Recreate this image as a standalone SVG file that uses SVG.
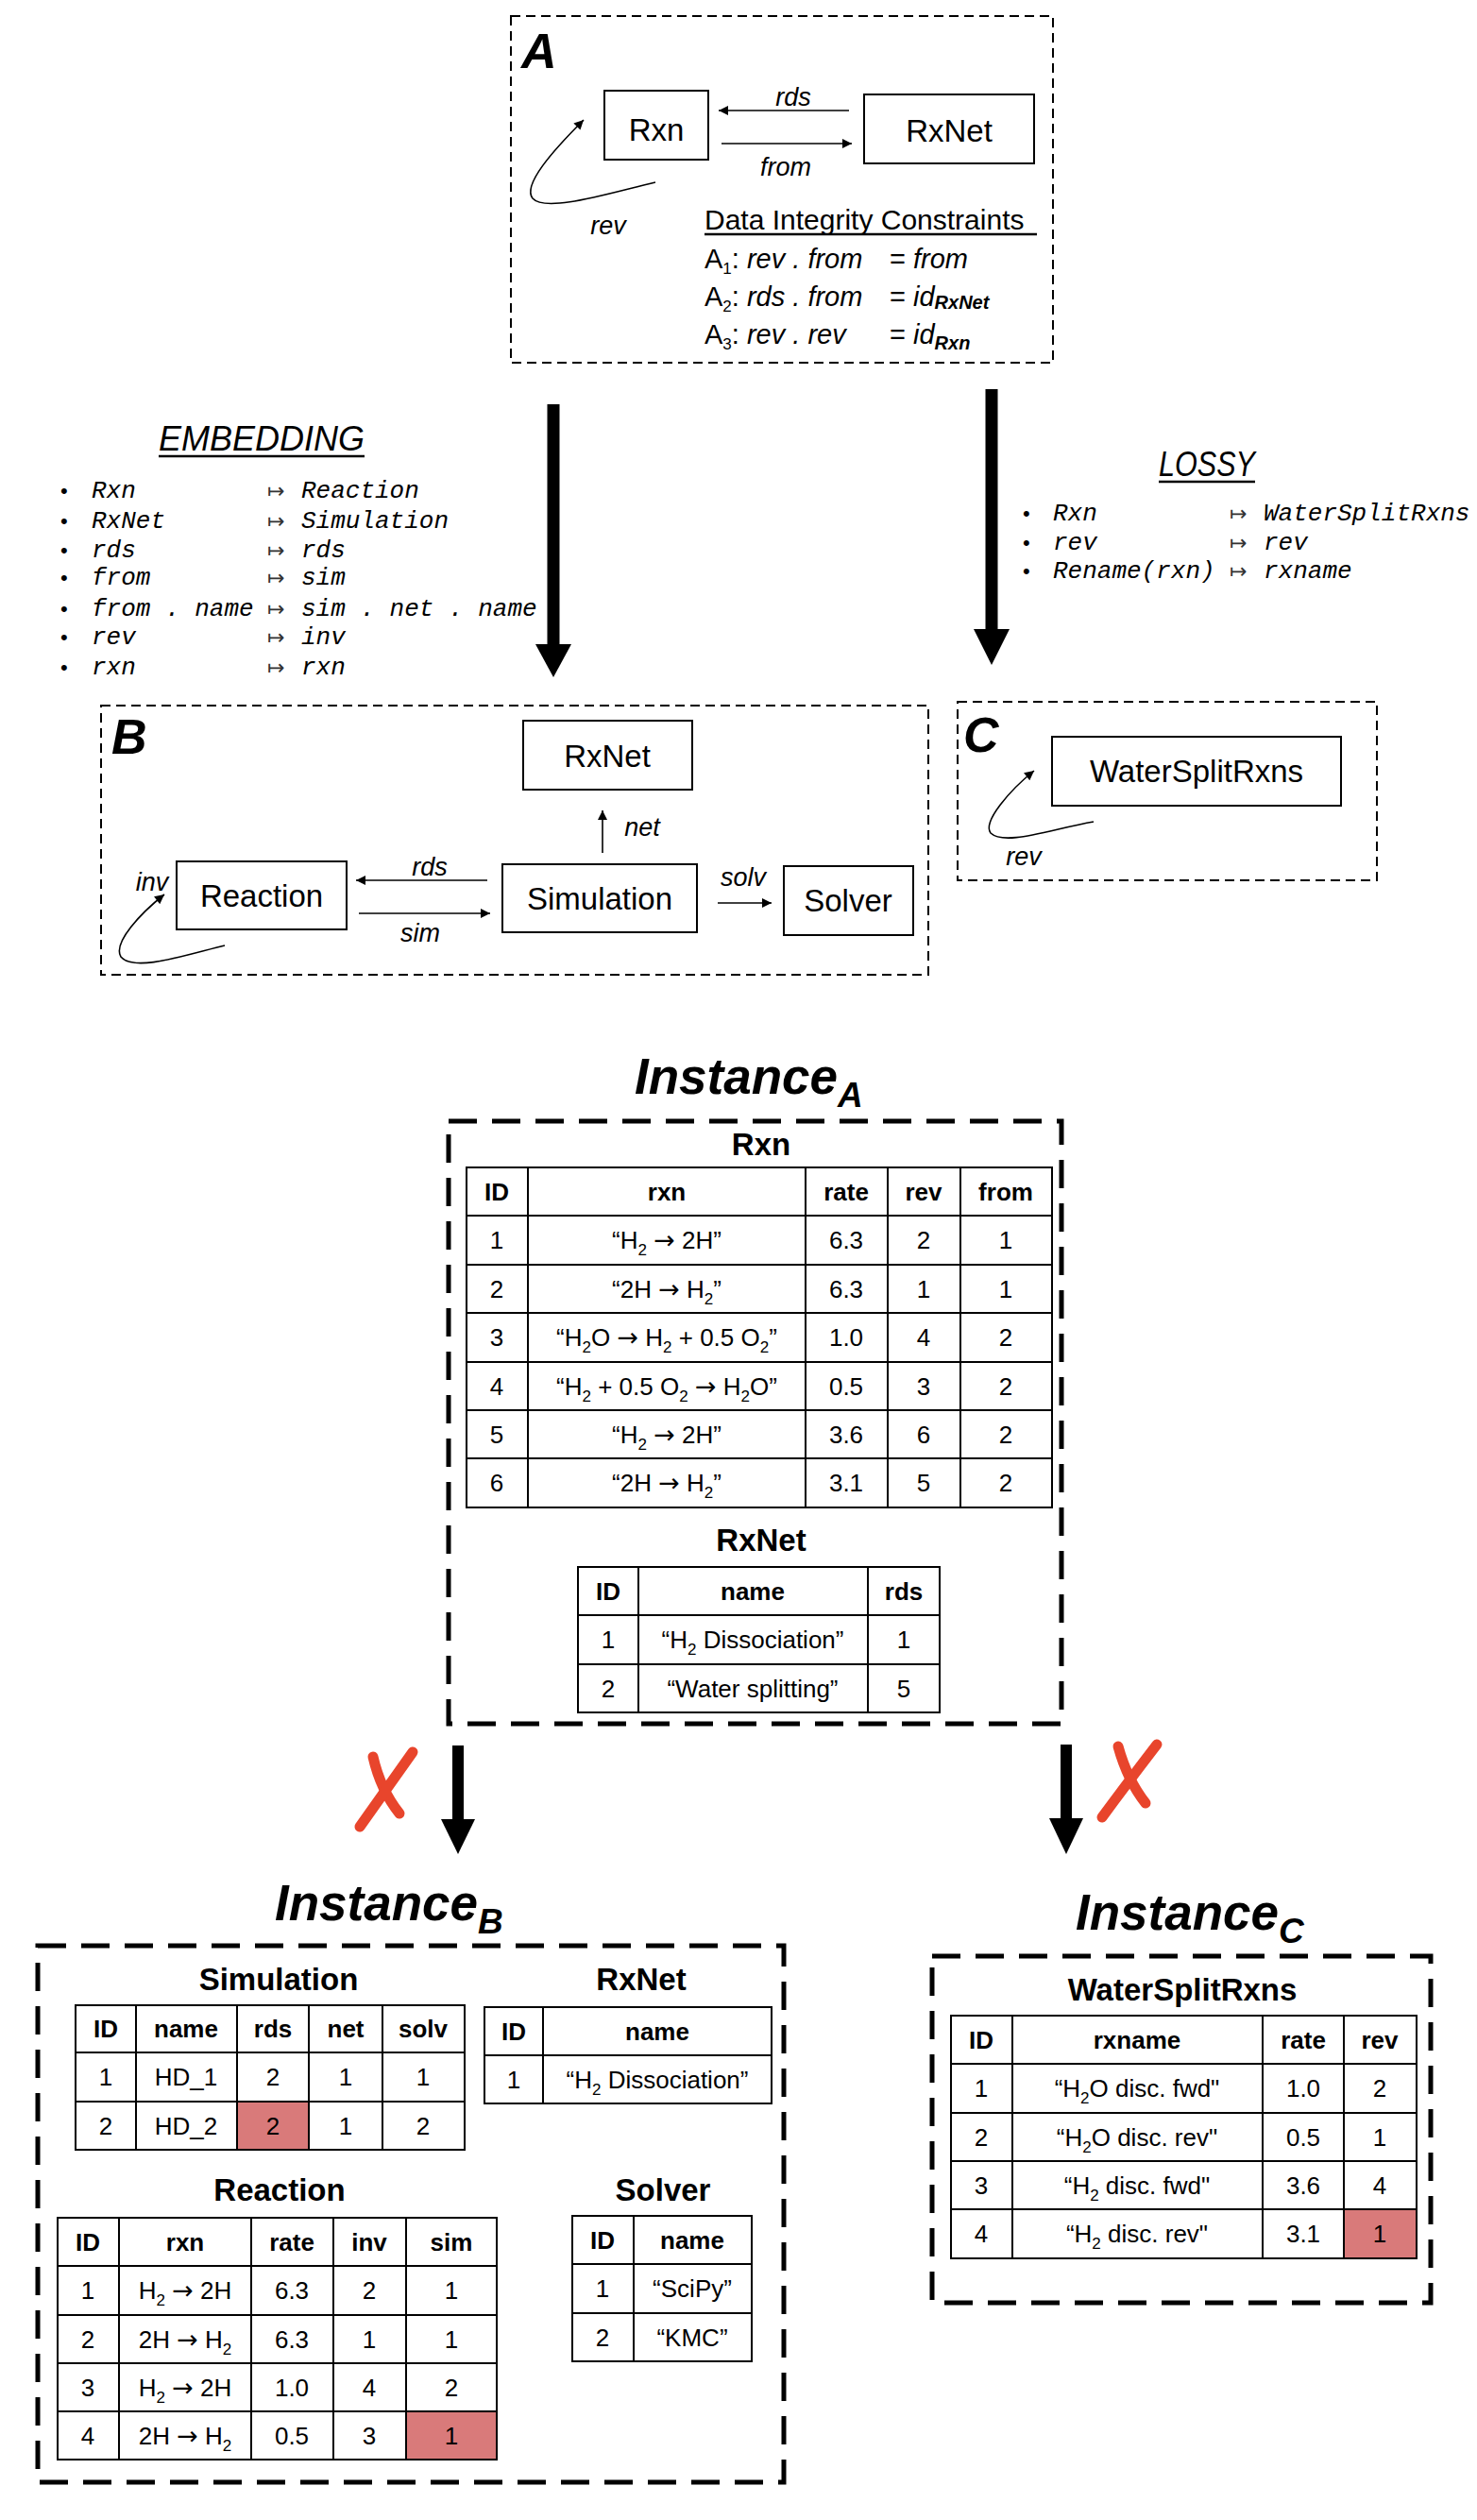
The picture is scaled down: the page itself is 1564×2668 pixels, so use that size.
<svg xmlns="http://www.w3.org/2000/svg" width="1564" height="2668" viewBox="0 0 1564 2668">
<style>
text{font-family:"Liberation Sans",Arial,sans-serif;fill:#000}
.node rect{fill:#fff;stroke:#000;stroke-width:2}
.node text{font-size:33px;text-anchor:middle}
.lbl{font-style:italic;font-size:27px}
.mono{font-family:"Liberation Mono","DejaVu Sans Mono",monospace;font-style:italic;font-size:26px}
.map{font-family:"DejaVu Sans",sans-serif;font-size:22px;fill:#333}
.bul{font-size:22px}
.tbl{fill:none;stroke:#000;stroke-width:2}
.cell{font-size:26px;text-anchor:middle}
.hdr{font-size:26px;font-weight:bold;text-anchor:middle}
.ttl{font-size:33px;font-weight:bold;text-anchor:middle}
.inst{font-size:53px;font-weight:bold;font-style:italic}
.isub{font-size:37px}
.sb{font-size:17px}
.ar{font-family:"DejaVu Sans",sans-serif;font-size:27px}
.frame{fill:none;stroke:#000;stroke-width:2;stroke-dasharray:10 6}
.iframe{fill:none;stroke:#000;stroke-width:5;stroke-dasharray:30 16}
.big{font-size:52px;font-weight:bold;font-style:italic}
.hl{fill:#D97A7A}
.xmark{fill:none;stroke:#E8452C;stroke-width:11;stroke-linecap:round}
.con{fill:none;stroke:#000;stroke-width:1.6}
.head{font-size:36px;font-style:italic}
.cons{font-size:29px}
</style>
<defs>
<marker id="ah" viewBox="0 0 10 10" refX="10" refY="5" markerWidth="13" markerHeight="10" markerUnits="userSpaceOnUse" orient="auto"><path d="M0,0 L10,5 L0,10 z" fill="#000"/></marker>
</defs>

<!-- Frame A -->
<g id="frameA">
<rect class="frame" x="541" y="17" width="574" height="367"/>
<text class="big" x="552" y="72">A</text>
</g>
<g id="nodeA-Rxn" class="node"><rect x="640" y="96" width="110" height="73"/><text x="695" y="149">Rxn</text></g>
<g id="nodeA-RxNet" class="node"><rect x="915" y="100" width="180" height="73"/><text x="1005" y="150">RxNet</text></g>
<g id="constraints">
<text x="746" y="243" style="font-size:30px">Data Integrity Constraints</text>
<line x1="746" y1="248" x2="1098" y2="248" stroke="#000" stroke-width="2.5"/>
<text class="cons" x="746" y="284">A<tspan class="sb" dy="6">1</tspan><tspan dy="-6">: </tspan><tspan font-style="italic">rev . from</tspan></text>
<text class="cons" x="942" y="284">= <tspan font-style="italic">from</tspan></text>
<text class="cons" x="746" y="324">A<tspan class="sb" dy="6">2</tspan><tspan dy="-6">: </tspan><tspan font-style="italic">rds . from</tspan></text>
<text class="cons" x="942" y="324">= <tspan font-style="italic">id</tspan><tspan font-style="italic" font-weight="bold" font-size="20" dy="3">RxNet</tspan></text>
<text class="cons" x="746" y="364">A<tspan class="sb" dy="6">3</tspan><tspan dy="-6">: </tspan><tspan font-style="italic">rev . rev</tspan></text>
<text class="cons" x="942" y="364">= <tspan font-style="italic">id</tspan><tspan font-style="italic" font-weight="bold" font-size="20" dy="6">Rxn</tspan></text>
</g>

<!-- Embedding -->
<g id="embedding">
<text class="head" x="168" y="477" textLength="218" lengthAdjust="spacingAndGlyphs">EMBEDDING</text>
<line x1="168" y1="483" x2="386" y2="483" stroke="#000" stroke-width="2.5"/>
<text class="bul" x="64" y="527">•</text><text class="mono" x="97" y="527">Rxn</text><text class="map" x="283" y="527">↦</text><text class="mono" x="319" y="527">Reaction</text>
<text class="bul" x="64" y="559">•</text><text class="mono" x="97" y="559">RxNet</text><text class="map" x="283" y="559">↦</text><text class="mono" x="319" y="559">Simulation</text>
<text class="bul" x="64" y="590">•</text><text class="mono" x="97" y="590">rds</text><text class="map" x="283" y="590">↦</text><text class="mono" x="319" y="590">rds</text>
<text class="bul" x="64" y="619">•</text><text class="mono" x="97" y="619">from</text><text class="map" x="283" y="619">↦</text><text class="mono" x="319" y="619">sim</text>
<text class="bul" x="64" y="652">•</text><text class="mono" x="97" y="652">from . name</text><text class="map" x="283" y="652">↦</text><text class="mono" x="319" y="652">sim . net . name</text>
<text class="bul" x="64" y="682">•</text><text class="mono" x="97" y="682">rev</text><text class="map" x="283" y="682">↦</text><text class="mono" x="319" y="682">inv</text>
<text class="bul" x="64" y="714">•</text><text class="mono" x="97" y="714">rxn</text><text class="map" x="283" y="714">↦</text><text class="mono" x="319" y="714">rxn</text>
</g>

<!-- Lossy -->
<g id="lossy">
<text class="head" x="1227" y="504" textLength="102" lengthAdjust="spacingAndGlyphs">LOSSY</text>
<line x1="1227" y1="510" x2="1329" y2="510" stroke="#000" stroke-width="2.5"/>
<text class="bul" x="1083" y="551">•</text><text class="mono" x="1115" y="551">Rxn</text><text class="map" x="1302" y="551">↦</text><text class="mono" x="1338" y="551">WaterSplitRxns</text>
<text class="bul" x="1083" y="582">•</text><text class="mono" x="1115" y="582">rev</text><text class="map" x="1302" y="582">↦</text><text class="mono" x="1338" y="582">rev</text>
<text class="bul" x="1083" y="612">•</text><text class="mono" x="1115" y="612">Rename(rxn)</text><text class="map" x="1302" y="612">↦</text><text class="mono" x="1338" y="612">rxname</text>
</g>

<!-- Frame B -->
<g id="frameB">
<rect class="frame" x="107" y="747" width="876" height="285"/>
<text class="big" x="118" y="798">B</text>
</g>
<g id="nodeB-RxNet" class="node"><rect x="554" y="763" width="179" height="73"/><text x="643" y="812">RxNet</text></g>
<g id="nodeB-Reaction" class="node"><rect x="187" y="912" width="180" height="72"/><text x="277" y="960">Reaction</text></g>
<g id="nodeB-Simulation" class="node"><rect x="532" y="915" width="206" height="72"/><text x="635" y="963">Simulation</text></g>
<g id="nodeB-Solver" class="node"><rect x="830" y="917" width="137" height="73"/><text x="898" y="965">Solver</text></g>

<!-- Frame C -->
<g id="frameC">
<rect class="frame" x="1014" y="743" width="444" height="189"/>
<text class="big" x="1020" y="796">C</text>
</g>
<g id="nodeC-WaterSplitRxns" class="node"><rect x="1114" y="780" width="306" height="73"/><text x="1267" y="828">WaterSplitRxns</text></g>

<!-- Connectors -->
<g id="connectors">
<line class="con" x1="899" y1="117" x2="761" y2="117" marker-end="url(#ah)"/>
<line class="con" x1="764" y1="152" x2="902" y2="152" marker-end="url(#ah)"/>
<path class="con" d="M694,193 C650,203 578,226 564,210 C553,196 585,160 618,127" marker-end="url(#ah)"/>
<text class="lbl" x="840" y="112" text-anchor="middle">rds</text>
<text class="lbl" x="832" y="186" text-anchor="middle">from</text>
<text class="lbl" x="644" y="248" text-anchor="middle">rev</text>

<line class="con" x1="516" y1="932" x2="377" y2="932" marker-end="url(#ah)"/>
<line class="con" x1="380" y1="967" x2="519" y2="967" marker-end="url(#ah)"/>
<line class="con" x1="638" y1="903" x2="638" y2="858" marker-end="url(#ah)"/>
<line class="con" x1="760" y1="956" x2="817" y2="956" marker-end="url(#ah)"/>
<path class="con" d="M238,1001 C200,1010 142,1030 128,1013 C119,998 150,966 174,947" marker-end="url(#ah)"/>
<text class="lbl" x="455" y="927" text-anchor="middle">rds</text>
<text class="lbl" x="445" y="997" text-anchor="middle">sim</text>
<text class="lbl" x="680" y="885" text-anchor="middle">net</text>
<text class="lbl" x="787" y="938" text-anchor="middle">solv</text>
<text class="lbl" x="161" y="943" text-anchor="middle">inv</text>

<path class="con" d="M1158,870 C1112,878 1064,896 1049,882 C1040,870 1070,836 1095,816" marker-end="url(#ah)"/>
<text class="lbl" x="1084" y="916" text-anchor="middle">rev</text>

<!-- thick arrows -->
<rect x="579.5" y="428" width="13" height="256"/>
<polygon points="567,682 605,682 586,717"/>
<rect x="1043.5" y="412" width="13" height="256"/>
<polygon points="1031,666 1069,666 1050,704"/>
<rect x="479" y="1848" width="12" height="80"/>
<polygon points="467,1926 503,1926 485,1963"/>
<rect x="1123" y="1847" width="12" height="80"/>
<polygon points="1111,1925 1147,1925 1129,1963"/>

<!-- red X marks -->
<path class="xmark" d="M395,1860 Q403,1895 423,1920"/>
<path class="xmark" d="M437,1855 Q405,1900 381,1934"/>
<path class="xmark" d="M1184,1849 Q1194,1885 1213,1909"/>
<path class="xmark" d="M1225,1847 Q1192,1890 1167,1924"/>
</g>

<!-- Instance A -->
<g id="instanceA">
<text class="inst" x="672" y="1158">Instance<tspan class="isub" dy="14">A</tspan></text>
<rect class="iframe" x="475" y="1187" width="649" height="638"/>
<text class="ttl" x="806" y="1223">Rxn</text>
<rect class="tbl" x="494" y="1236" width="620" height="360"/>
<path class="tbl" d="M559,1236V1596 M853,1236V1596 M940,1236V1596 M1017,1236V1596 M494,1287H1114 M494,1339H1114 M494,1390H1114 M494,1442H1114 M494,1493H1114 M494,1544H1114"/>
<text class="hdr" x="526" y="1271">ID</text><text class="hdr" x="706" y="1271">rxn</text><text class="hdr" x="896" y="1271">rate</text><text class="hdr" x="978" y="1271">rev</text><text class="hdr" x="1065" y="1271">from</text>
<text class="cell" x="526" y="1322">1</text><text class="cell" x="706" y="1322">“H<tspan class="sb" dy="7">2</tspan><tspan dy="-7"> </tspan><tspan class="ar">→</tspan> 2H”</text><text class="cell" x="896" y="1322">6.3</text><text class="cell" x="978" y="1322">2</text><text class="cell" x="1065" y="1322">1</text>
<text class="cell" x="526" y="1374">2</text><text class="cell" x="706" y="1374">“2H <tspan class="ar">→</tspan> H<tspan class="sb" dy="7">2</tspan><tspan dy="-7">”</tspan></text><text class="cell" x="896" y="1374">6.3</text><text class="cell" x="978" y="1374">1</text><text class="cell" x="1065" y="1374">1</text>
<text class="cell" x="526" y="1425">3</text><text class="cell" x="706" y="1425">“H<tspan class="sb" dy="7">2</tspan><tspan dy="-7">O </tspan><tspan class="ar">→</tspan> H<tspan class="sb" dy="7">2</tspan><tspan dy="-7"> + 0.5 O</tspan><tspan class="sb" dy="7">2</tspan><tspan dy="-7">”</tspan></text><text class="cell" x="896" y="1425">1.0</text><text class="cell" x="978" y="1425">4</text><text class="cell" x="1065" y="1425">2</text>
<text class="cell" x="526" y="1477">4</text><text class="cell" x="706" y="1477">“H<tspan class="sb" dy="7">2</tspan><tspan dy="-7"> + 0.5 O</tspan><tspan class="sb" dy="7">2</tspan><tspan dy="-7"> </tspan><tspan class="ar">→</tspan> H<tspan class="sb" dy="7">2</tspan><tspan dy="-7">O”</tspan></text><text class="cell" x="896" y="1477">0.5</text><text class="cell" x="978" y="1477">3</text><text class="cell" x="1065" y="1477">2</text>
<text class="cell" x="526" y="1528">5</text><text class="cell" x="706" y="1528">“H<tspan class="sb" dy="7">2</tspan><tspan dy="-7"> </tspan><tspan class="ar">→</tspan> 2H”</text><text class="cell" x="896" y="1528">3.6</text><text class="cell" x="978" y="1528">6</text><text class="cell" x="1065" y="1528">2</text>
<text class="cell" x="526" y="1579">6</text><text class="cell" x="706" y="1579">“2H <tspan class="ar">→</tspan> H<tspan class="sb" dy="7">2</tspan><tspan dy="-7">”</tspan></text><text class="cell" x="896" y="1579">3.1</text><text class="cell" x="978" y="1579">5</text><text class="cell" x="1065" y="1579">2</text>

<text class="ttl" x="806" y="1642">RxNet</text>
<rect class="tbl" x="612" y="1659" width="383" height="154"/>
<path class="tbl" d="M676,1659V1813 M919,1659V1813 M612,1710H995 M612,1762H995"/>
<text class="hdr" x="644" y="1694">ID</text><text class="hdr" x="797" y="1694">name</text><text class="hdr" x="957" y="1694">rds</text>
<text class="cell" x="644" y="1745">1</text><text class="cell" x="797" y="1745">“H<tspan class="sb" dy="7">2</tspan><tspan dy="-7"> Dissociation”</tspan></text><text class="cell" x="957" y="1745">1</text>
<text class="cell" x="644" y="1797">2</text><text class="cell" x="797" y="1797">“Water splitting”</text><text class="cell" x="957" y="1797">5</text>
</g>

<!-- Instance B -->
<g id="instanceB">
<text class="inst" x="291" y="2033">Instance<tspan class="isub" dy="14">B</tspan></text>
<rect class="iframe" x="40" y="2060" width="790" height="568"/>
<text class="ttl" x="295" y="2107">Simulation</text>
<rect class="hl" x="251" y="2225" width="76" height="51"/>
<rect class="tbl" x="80" y="2123" width="412" height="153"/>
<path class="tbl" d="M144,2123V2276 M251,2123V2276 M327,2123V2276 M405,2123V2276 M80,2173H492 M80,2225H492"/>
<text class="hdr" x="112" y="2157">ID</text><text class="hdr" x="197" y="2157">name</text><text class="hdr" x="289" y="2157">rds</text><text class="hdr" x="366" y="2157">net</text><text class="hdr" x="448" y="2157">solv</text>
<text class="cell" x="112" y="2208">1</text><text class="cell" x="197" y="2208">HD_1</text><text class="cell" x="289" y="2208">2</text><text class="cell" x="366" y="2208">1</text><text class="cell" x="448" y="2208">1</text>
<text class="cell" x="112" y="2260">2</text><text class="cell" x="197" y="2260">HD_2</text><text class="cell" x="289" y="2260">2</text><text class="cell" x="366" y="2260">1</text><text class="cell" x="448" y="2260">2</text>

<text class="ttl" x="679" y="2107">RxNet</text>
<rect class="tbl" x="513" y="2125" width="304" height="102"/>
<path class="tbl" d="M575,2125V2227 M513,2176H817"/>
<text class="hdr" x="544" y="2160">ID</text><text class="hdr" x="696" y="2160">name</text>
<text class="cell" x="544" y="2211">1</text><text class="cell" x="696" y="2211">“H<tspan class="sb" dy="7">2</tspan><tspan dy="-7"> Dissociation”</tspan></text>

<text class="ttl" x="296" y="2330">Reaction</text>
<rect class="hl" x="430" y="2553" width="96" height="51"/>
<rect class="tbl" x="61" y="2348" width="465" height="256"/>
<path class="tbl" d="M126,2348V2604 M266,2348V2604 M353,2348V2604 M430,2348V2604 M61,2399H526 M61,2451H526 M61,2502H526 M61,2553H526"/>
<text class="hdr" x="93" y="2383">ID</text><text class="hdr" x="196" y="2383">rxn</text><text class="hdr" x="309" y="2383">rate</text><text class="hdr" x="391" y="2383">inv</text><text class="hdr" x="478" y="2383">sim</text>
<text class="cell" x="93" y="2434">1</text><text class="cell" x="196" y="2434">H<tspan class="sb" dy="7">2</tspan><tspan dy="-7"> </tspan><tspan class="ar">→</tspan> 2H</text><text class="cell" x="309" y="2434">6.3</text><text class="cell" x="391" y="2434">2</text><text class="cell" x="478" y="2434">1</text>
<text class="cell" x="93" y="2486">2</text><text class="cell" x="196" y="2486">2H <tspan class="ar">→</tspan> H<tspan class="sb" dy="7">2</tspan></text><text class="cell" x="309" y="2486">6.3</text><text class="cell" x="391" y="2486">1</text><text class="cell" x="478" y="2486">1</text>
<text class="cell" x="93" y="2537">3</text><text class="cell" x="196" y="2537">H<tspan class="sb" dy="7">2</tspan><tspan dy="-7"> </tspan><tspan class="ar">→</tspan> 2H</text><text class="cell" x="309" y="2537">1.0</text><text class="cell" x="391" y="2537">4</text><text class="cell" x="478" y="2537">2</text>
<text class="cell" x="93" y="2588">4</text><text class="cell" x="196" y="2588">2H <tspan class="ar">→</tspan> H<tspan class="sb" dy="7">2</tspan></text><text class="cell" x="309" y="2588">0.5</text><text class="cell" x="391" y="2588">3</text><text class="cell" x="478" y="2588">1</text>

<text class="ttl" x="702" y="2330">Solver</text>
<rect class="tbl" x="606" y="2346" width="190" height="154"/>
<path class="tbl" d="M671,2346V2500 M606,2397H796 M606,2449H796"/>
<text class="hdr" x="638" y="2381">ID</text><text class="hdr" x="733" y="2381">name</text>
<text class="cell" x="638" y="2432">1</text><text class="cell" x="733" y="2432">“SciPy”</text>
<text class="cell" x="638" y="2484">2</text><text class="cell" x="733" y="2484">“KMC”</text>
</g>

<!-- Instance C -->
<g id="instanceC">
<text class="inst" x="1139" y="2043">Instance<tspan class="isub" dy="14">C</tspan></text>
<rect class="iframe" x="987" y="2071" width="528" height="367"/>
<text class="ttl" x="1252" y="2118">WaterSplitRxns</text>
<rect class="hl" x="1423" y="2339" width="77" height="52"/>
<rect class="tbl" x="1007" y="2134" width="493" height="257"/>
<path class="tbl" d="M1072,2134V2391 M1337,2134V2391 M1423,2134V2391 M1007,2185H1500 M1007,2237H1500 M1007,2288H1500 M1007,2339H1500"/>
<text class="hdr" x="1039" y="2169">ID</text><text class="hdr" x="1204" y="2169">rxname</text><text class="hdr" x="1380" y="2169">rate</text><text class="hdr" x="1461" y="2169">rev</text>
<text class="cell" x="1039" y="2220">1</text><text class="cell" x="1204" y="2220">“H<tspan class="sb" dy="7">2</tspan><tspan dy="-7">O disc. fwd"</tspan></text><text class="cell" x="1380" y="2220">1.0</text><text class="cell" x="1461" y="2220">2</text>
<text class="cell" x="1039" y="2272">2</text><text class="cell" x="1204" y="2272">“H<tspan class="sb" dy="7">2</tspan><tspan dy="-7">O disc. rev"</tspan></text><text class="cell" x="1380" y="2272">0.5</text><text class="cell" x="1461" y="2272">1</text>
<text class="cell" x="1039" y="2323">3</text><text class="cell" x="1204" y="2323">“H<tspan class="sb" dy="7">2</tspan><tspan dy="-7"> disc. fwd"</tspan></text><text class="cell" x="1380" y="2323">3.6</text><text class="cell" x="1461" y="2323">4</text>
<text class="cell" x="1039" y="2374">4</text><text class="cell" x="1204" y="2374">“H<tspan class="sb" dy="7">2</tspan><tspan dy="-7"> disc. rev"</tspan></text><text class="cell" x="1380" y="2374">3.1</text><text class="cell" x="1461" y="2374">1</text>
</g>
</svg>
